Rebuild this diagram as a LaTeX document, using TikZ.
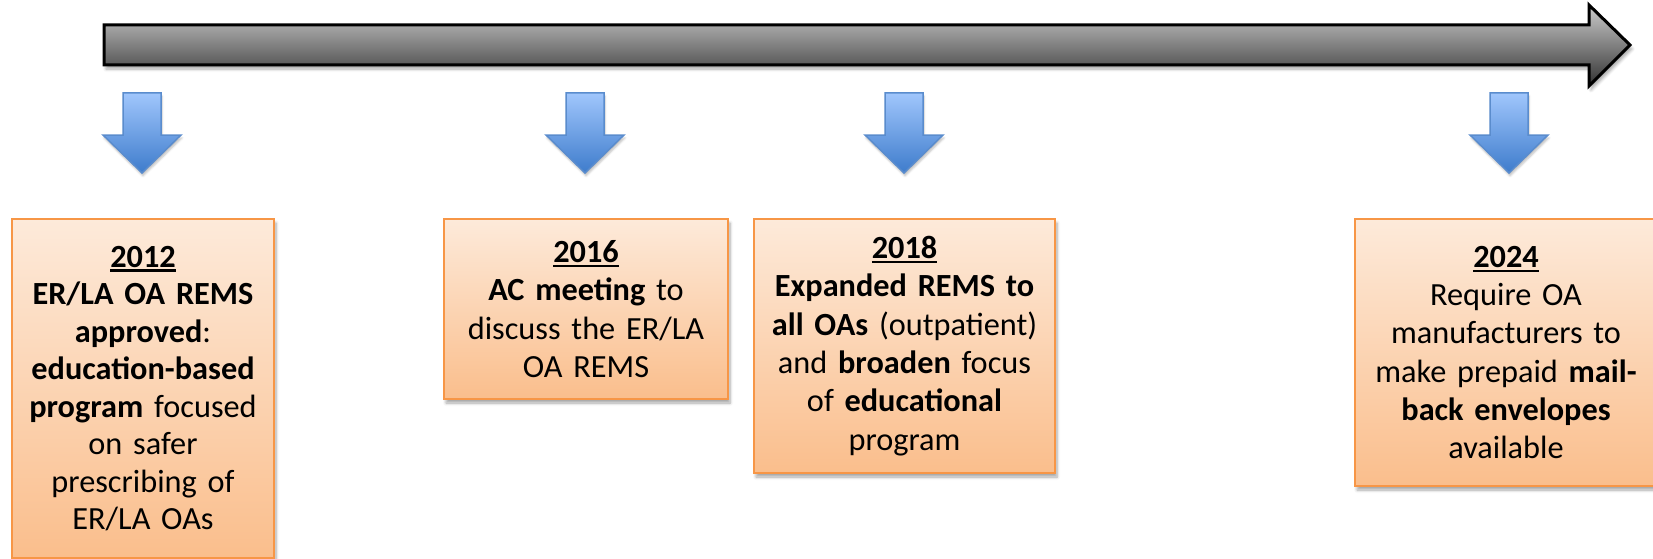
\documentclass[tikz,border=0pt]{standalone}
\usepackage{fontspec}
\setmainfont{Carlito}
\usetikzlibrary{shadows.blur}

\definecolor{boxtop}{RGB}{253,234,218}
\definecolor{boxbot}{RGB}{250,190,140}
\definecolor{boxline}{RGB}{247,150,70}
\definecolor{arrtop}{RGB}{160,198,252}
\definecolor{arrbot}{RGB}{62,124,204}
\definecolor{arrline}{RGB}{90,140,205}
\definecolor{bartop}{RGB}{205,205,205}
\definecolor{barbot}{RGB}{50,50,50}

% underlined bold year heading
\newcommand\yr[1]{\setbox0\hbox{\textbf{#1}}%
  \rlap{\rule[-4.5pt]{\wd0}{2.2pt}}\box0}

\begin{document}
\begin{tikzpicture}[x=1pt,y=-1pt,
  softshadow/.style={blur shadow={shadow xshift=2pt, shadow yshift=-4pt,
      shadow blur radius=3pt, shadow blur steps=6, shadow opacity=35}},
  event/.style={draw=boxline, line width=2pt, top color=boxtop,
      bottom color=boxbot, anchor=north west, align=center, inner sep=0pt,
      font=\fontsize{32.3}{38.3}\selectfont, softshadow},
  timeline/.style={draw=black, line width=3pt, line join=miter,
      top color=bartop, bottom color=barbot, softshadow},
  pointer/.style={draw=arrline, line width=1.5pt, line join=miter,
      top color=arrtop, bottom color=arrbot,
      blur shadow={shadow xshift=1pt, shadow yshift=-3pt,
      shadow blur radius=2pt, shadow blur steps=4, shadow opacity=25}},
  pics/downarrow/.style={code={
      \path[pointer] (-19,0) -- (19,0) -- (19,42) -- (39,42) -- (0,80)
        -- (-39,42) -- (-19,42) -- cycle;}}
]
\useasboundingbox (0,0) rectangle (1653,559);
\begin{scope}
\clip (0,0) rectangle (1653,559);

% time axis
\path[timeline] (104,25) -- (1589,25) -- (1589,5) -- (1630,45)
  -- (1589,86) -- (1589,65) -- (104,65) -- cycle;

% markers from the axis down to each event
\pic (p2012) at (142,93) {downarrow};
\pic (p2016) at (585,93) {downarrow};
\pic (p2018) at (904,93) {downarrow};
\pic (p2024) at (1509,93) {downarrow};

% events
\node[event, minimum width=262pt, minimum height=339pt, text width=258pt,
  font=\fontsize{32.3}{37.5}\selectfont] (e2012) at (11,218)
  {\yr{2012}\\ \textbf{ER/LA OA REMS}\\ \textbf{approved}:\\
   \textbf{education-based}\\ \textbf{program} focused\\ on safer\\
   prescribing of\\ ER/LA OAs};

\node[event, minimum width=284pt, minimum height=180pt, text width=278pt]
  (e2016) at (443,218)
  {\yr{2016}\\ \textbf{AC meeting} to\\ discuss the ER/LA\\ OA REMS};

\node[event, minimum width=301pt, minimum height=254pt, text width=296pt]
  (e2018) at (753,218)
  {\yr{2018}\\ \textbf{Expanded REMS to}\\ \textbf{all OAs} (outpatient)\\
   and \textbf{broaden} focus\\ of \textbf{educational}\\ program};

\node[event, minimum width=302pt, minimum height=267pt, text width=296pt]
  (e2024) at (1354,218)
  {\yr{2024}\\ Require OA\\ manufacturers to\\ make prepaid \textbf{mail-}\\
   \textbf{back envelopes}\\ available};
\end{scope}
\end{tikzpicture}
\end{document}
